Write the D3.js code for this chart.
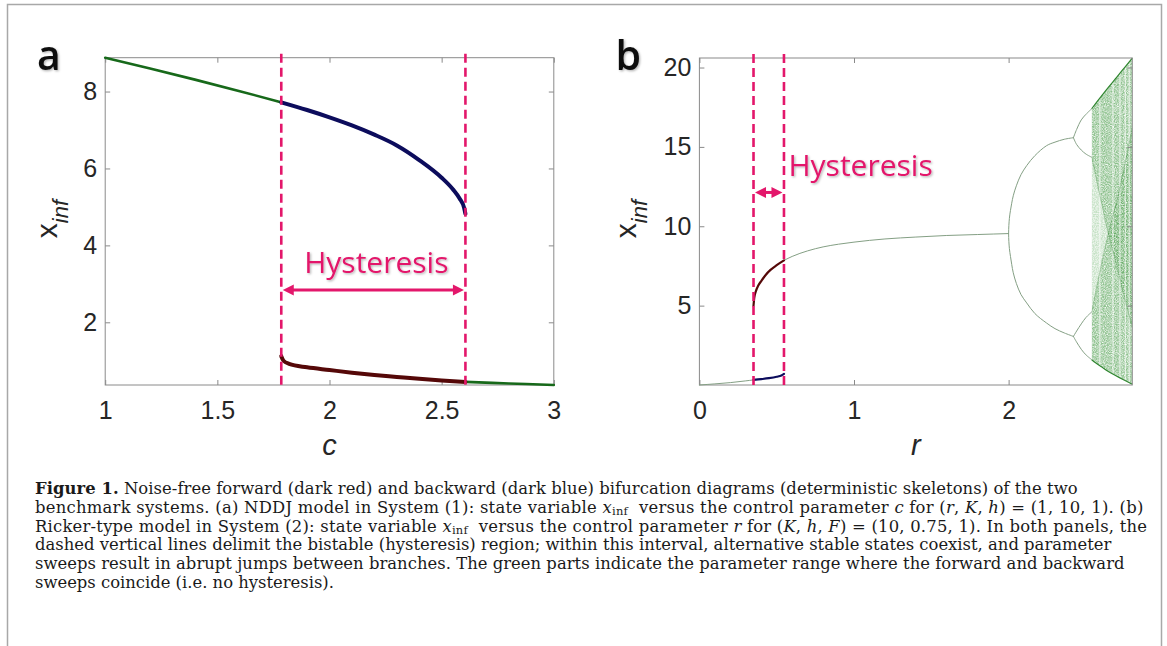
<!DOCTYPE html>
<html lang="en">
<head>
<meta charset="UTF-8">
<title>Figure 1 - bifurcation diagrams</title>
<script src="https://d3js.org/d3.v7.min.js"></script>
<style>
  body { margin: 0; background: #fff; }
  .tick text { font-family: "Liberation Sans", Arial, sans-serif; font-size: 25px; fill: #262626; }
  .tick line { stroke: #8a8a8a; }
  .box { fill: none; stroke: #8a8a8a; stroke-width: 1; }
  .caption { font-family: "DejaVu Serif", "Liberation Serif", serif; fill: #1a1a1a; }
</style>
</head>
<body>
<script>
// ---------- panel a : NDDJ model, x_inf vs c ----------
const aTicksX = [1, 1.5, 2, 2.5, 3];
const aTicksY = [2, 4, 6, 8];
const aHyst = [1.785, 2.606];          // dashed lines
const aArrowY = 2.84;
const aGreenUp = [[1.0, 8.88], [1.2, 8.6], [1.4, 8.31], [1.6, 8.01], [1.785, 7.72]];
const aBlue = [[1.785, 7.72], [1.9, 7.52], [2.0, 7.33], [2.1, 7.12], [2.2, 6.88], [2.3, 6.6],
               [2.4, 6.22], [2.5, 5.76], [2.55, 5.46], [2.58, 5.22], [2.6, 4.98], [2.606, 4.82]];
const aRed = [[1.785, 1.12], [1.795, 1.0], [1.82, 0.92], [1.9, 0.83], [2.0, 0.76], [2.1, 0.69],
              [2.2, 0.63], [2.3, 0.58], [2.4, 0.53], [2.5, 0.49], [2.606, 0.45]];
const aGreenLow = [[2.606, 0.45], [2.8, 0.41], [3.0, 0.37]];

// ---------- panel b : Ricker-type model, x_inf vs r ----------
const bTicksX = [0, 1, 2];
const bTicksY = [5, 10, 15, 20];
const bHyst = [0.35, 0.547];
const bArrowY = 12.13;
const bGreenLow = [[0, 0], [0.1, 0.07], [0.2, 0.15], [0.3, 0.26], [0.35, 0.32]];
const bBlue = [[0.35, 0.32], [0.4, 0.37], [0.45, 0.43], [0.5, 0.52], [0.53, 0.6], [0.547, 0.7]];
const bRed = [[0.35, 5.0], [0.355, 5.5], [0.365, 5.9], [0.38, 6.25], [0.4, 6.55], [0.43, 6.95],
              [0.46, 7.25], [0.5, 7.55], [0.547, 7.85]];
const bGreenUp = [[0.547, 7.85], [0.6, 8.1], [0.7, 8.45], [0.8, 8.7], [0.9, 8.87], [1.0, 9.0],
                  [1.2, 9.2], [1.4, 9.32], [1.6, 9.42], [1.8, 9.48], [2.0, 9.54]];
// period-2 branches
const bP2Up = [[2.0, 9.54], [2.005, 10.5], [2.012, 11.0], [2.02, 11.45], [2.03, 11.92], [2.05, 12.55],
               [2.08, 13.25], [2.117, 13.82], [2.17, 14.45], [2.246, 15.08], [2.3, 15.3], [2.36, 15.48], [2.419, 15.58]];
const bP2Low = [[2.0, 9.54], [2.005, 8.6], [2.012, 8.1], [2.02, 7.6], [2.03, 7.07], [2.05, 6.4],
                [2.08, 5.7], [2.117, 5.17], [2.17, 4.5], [2.246, 3.9], [2.3, 3.55], [2.36, 3.28], [2.419, 3.06]];
// period-4 branches
const bP4a = [[2.419, 15.58], [2.44, 16.1], [2.47, 16.7], [2.5, 17.05], [2.537, 17.4]];
const bP4b = [[2.419, 15.58], [2.44, 15.15], [2.47, 14.8], [2.5, 14.55], [2.537, 14.35]];
const bP4c = [[2.419, 3.06], [2.44, 3.4], [2.47, 3.85], [2.5, 4.25], [2.537, 4.6]];
const bP4d = [[2.419, 3.06], [2.44, 2.7], [2.47, 2.25], [2.5, 1.9], [2.537, 1.6]];
// chaotic band
const bChaosR = [2.537, 2.56, 2.6, 2.645, 2.7, 2.75, 2.8];
const bChaosTop = [17.4, 17.7, 18.2, 18.75, 19.4, 20.0, 20.6];
const bChaosBot = [1.6, 1.42, 1.15, 0.85, 0.55, 0.3, 0.05];
const bCausticA = [14.35, 13.3, 11.5, 9.54, 7.5, 5.5, 3.6];
const bCausticB = [4.6, 5.7, 7.6, 9.54, 11.6, 13.8, 16.2];
const bWindows = [2.59, 2.675, 2.72, 2.755, 2.78];

const W = 1167, H = 646;
const pink = "#e3176b";

const svg = d3.select("body").append("svg").attr("width", W).attr("height", H);

const defs = svg.append("defs");
const shadow = defs.append("filter").attr("id", "shadow").attr("x", "-10%").attr("y", "-10%")
    .attr("width", "130%").attr("height", "140%");
shadow.append("feDropShadow").attr("dx", 1.2).attr("dy", 1.2).attr("stdDeviation", 1)
    .attr("flood-color", "#000").attr("flood-opacity", 0.3);
const grain = defs.append("filter").attr("id", "grain").attr("x", 0).attr("y", 0)
    .attr("width", "100%").attr("height", "100%");
grain.append("feTurbulence").attr("type", "fractalNoise").attr("baseFrequency", 0.9)
    .attr("numOctaves", 2).attr("seed", 7).attr("result", "noise");
grain.append("feColorMatrix").attr("in", "noise").attr("type", "matrix")
    .attr("values", "0 0 0 0 1  0 0 0 0 1  0 0 0 0 1  1.6 0 0 0 -0.15").attr("result", "mask");
grain.append("feComposite").attr("in", "SourceGraphic").attr("in2", "mask").attr("operator", "in");

// outer frame
svg.append("path").attr("d", `M7.5,${H} V4.5 H1161.5 V${H}`)
    .attr("fill", "none").attr("stroke", "#a8a8a8").attr("stroke-width", 1.5);

function drawAxes(g, x, y, xt, yt, xlab) {
    const [x0, x1] = x.range(), [y0, y1] = y.range();
    g.append("g").attr("transform", `translate(0,${y0})`)
        .call(d3.axisBottom(x).tickValues(xt).tickSize(-5).tickPadding(16.5).tickFormat(d3.format("")));
    g.append("g").attr("transform", `translate(0,${y1})`)
        .call(d3.axisTop(x).tickValues(xt).tickSize(-5).tickFormat(""));
    g.append("g").attr("transform", `translate(${x0},0)`)
        .call(d3.axisLeft(y).tickValues(yt).tickSize(-5).tickPadding(8));
    g.append("g").attr("transform", `translate(${x1},0)`)
        .call(d3.axisRight(y).tickValues(yt).tickSize(-5).tickFormat(""));
    g.selectAll(".domain").remove();
    g.append("rect").attr("class", "box").attr("x", x0).attr("y", y1)
        .attr("width", x1 - x0).attr("height", y0 - y1);
    g.append("text").attr("x", (x0 + x1) / 2).attr("y", 454.5).attr("text-anchor", "middle")
        .style("font-family", "Liberation Sans, Arial, sans-serif").style("font-size", "29px")
        .style("font-style", "italic").attr("fill", "#262626").text(xlab);
}

function yLabel(g, bx, cy) {
    const t = g.append("text").attr("transform", `translate(${bx},${cy}) rotate(-90)`)
        .attr("text-anchor", "middle").attr("fill", "#262626")
        .style("font-family", "Liberation Sans, Arial, sans-serif");
    t.append("tspan").style("font-size", "30px").text("x");
    t.append("tspan").style("font-size", "22px").style("font-style", "italic").attr("dy", 11).text("inf");
}

function dashes(g, x, y, h) {
    const [y0, y1] = y.range();
    g.selectAll(null).data(h).enter().append("line")
        .attr("x1", d => x(d)).attr("x2", d => x(d)).attr("y1", y1 - 4).attr("y2", y0 + 3)
        .attr("stroke", pink).attr("stroke-width", 2.6).attr("stroke-dasharray", "9,5");
}

function arrow(g, xa, xb, yy) {
    const hl = 11, hw = 5.5;
    g.append("line").attr("x1", xa + hl - 1).attr("x2", xb - hl + 1).attr("y1", yy).attr("y2", yy)
        .attr("stroke", pink).attr("stroke-width", 3);
    g.append("path").attr("fill", pink)
        .attr("d", `M${xa},${yy} l${hl},${-hw} v${2 * hw} Z M${xb},${yy} l${-hl},${-hw} v${2 * hw} Z`);
}

function panelLabel(g, px, txt) {
    g.append("text").attr("x", px).attr("y", 70).attr("filter", "url(#shadow)")
        .style("font-family", "Open Sans, sans-serif").style("font-size", "41px").style("font-weight", 600)
        .attr("fill", "#111").text(txt);
}

function curve(g, x, y, data, color, width, crv) {
    g.append("path").datum(data)
        .attr("d", d3.line().x(d => x(d[0])).y(d => y(d[1])).curve(crv || d3.curveMonotoneX))
        .attr("fill", "none").attr("stroke", color).attr("stroke-width", width)
        .attr("stroke-linecap", "round");
}

// ---------- panel a ----------
const xA = d3.scaleLinear().domain([1, 3]).range([105.2, 553.8]);
const yA = d3.scaleLinear().domain([0.37, 8.88]).range([385, 57.7]);
const gA = svg.append("g");
drawAxes(gA, xA, yA, aTicksX, aTicksY, "c");
yLabel(gA, 56.7, 219);
curve(gA, xA, yA, aGreenUp, "#17691a", 2.6);
curve(gA, xA, yA, aGreenLow, "#17691a", 2.6);
curve(gA, xA, yA, aBlue, "#0c0c5c", 4);
curve(gA, xA, yA, aRed, "#550808", 4);
dashes(gA, xA, yA, aHyst);
arrow(gA, xA(aHyst[0]) + 1.5, xA(aHyst[1]) - 1.5, yA(aArrowY));
gA.append("text").attr("x", (xA(aHyst[0]) + xA(aHyst[1])) / 2 + 3).attr("y", yA(aArrowY) - 16.7)
    .attr("text-anchor", "middle").attr("filter", "url(#shadow)")
    .style("font-family", "Open Sans, sans-serif").style("font-size", "30px")
    .attr("fill", pink).text("Hysteresis");
panelLabel(gA, 37, "a");

// ---------- panel b ----------
const xB = d3.scaleLinear().domain([0, 2.8]).range([699.4, 1132.3]);
const yB = d3.scaleLinear().domain([0, 20.6]).range([385, 58]);
const gB = svg.append("g");

// chaotic band
const chaos = bChaosR.map((r, i) => ({ r, top: bChaosTop[i], bot: bChaosBot[i], a: bCausticA[i], b: bCausticB[i] }));
const bandArea = d3.area().x(d => xB(d.r)).y0(d => yB(d.bot)).y1(d => yB(d.top)).curve(d3.curveMonotoneX);
defs.append("clipPath").attr("id", "chaosClip").append("path").attr("d", bandArea(chaos));
const gC = gB.append("g").attr("clip-path", "url(#chaosClip)");
const gGrain = gC.append("g").attr("filter", "url(#grain)");
gGrain.append("path").attr("d", bandArea(chaos)).attr("fill", "#8cc48c").attr("opacity", 0.5);
gGrain.append("path").attr("fill", "#3a933a").attr("opacity", 0.4)
    .attr("d", d3.area().x(d => xB(d.r)).y0(d => yB(d.a)).y1(d => yB(d.top)).curve(d3.curveMonotoneX)(chaos));
gGrain.append("path").attr("fill", "#3a933a").attr("opacity", 0.4)
    .attr("d", d3.area().x(d => xB(d.r)).y0(d => yB(d.bot)).y1(d => yB(d.b)).curve(d3.curveMonotoneX)(chaos));
gC.selectAll(null).data(bWindows).enter().append("line")
    .attr("x1", d => xB(d)).attr("x2", d => xB(d)).attr("y1", yB(21)).attr("y2", yB(0))
    .attr("stroke", "#fff").attr("stroke-width", 1.3).attr("opacity", 0.6);
gC.append("path").datum(chaos).attr("fill", "none").attr("stroke", "#2a7a2a").attr("stroke-width", 0.7)
    .attr("opacity", 0.4).attr("d", d3.line().x(d => xB(d.r)).y(d => yB(d.a)).curve(d3.curveMonotoneX));
gC.append("path").datum(chaos).attr("fill", "none").attr("stroke", "#2a7a2a").attr("stroke-width", 0.7)
    .attr("opacity", 0.4).attr("d", d3.line().x(d => xB(d.r)).y(d => yB(d.b)).curve(d3.curveMonotoneX));
gB.append("path").datum(chaos).attr("fill", "none").attr("stroke", "#2f852f").attr("stroke-width", 1.2)
    .attr("d", d3.line().x(d => xB(d.r)).y(d => yB(d.top)).curve(d3.curveMonotoneX));
gB.append("path").datum(chaos).attr("fill", "none").attr("stroke", "#2f852f").attr("stroke-width", 1.2)
    .attr("d", d3.line().x(d => xB(d.r)).y(d => yB(d.bot)).curve(d3.curveMonotoneX));

drawAxes(gB, xB, yB, bTicksX, bTicksY, "r");
yLabel(gB, 635.9, 219);
const thinGreen = "#849f84";
const arc = d3.curveCatmullRom.alpha(0.5);
[bGreenLow, bGreenUp].forEach(d => curve(gB, xB, yB, d, thinGreen, 1));
curve(gB, xB, yB, bP2Low.slice().reverse().concat(bP2Up.slice(1)), thinGreen, 1, arc);
[bP4a, bP4b, bP4c, bP4d].forEach(d => curve(gB, xB, yB, d, thinGreen, 1, arc));
curve(gB, xB, yB, bBlue, "#0c0c5c", 2.2);
curve(gB, xB, yB, bRed, "#550808", 2.2);
dashes(gB, xB, yB, bHyst);
arrow(gB, xB(bHyst[0]) + 1.5, xB(bHyst[1]) - 1.5, yB(bArrowY));
gB.append("text").attr("x", xB(bHyst[1]) + 4.5).attr("y", yB(bArrowY) - 16.6)
    .attr("filter", "url(#shadow)")
    .style("font-family", "Open Sans, sans-serif").style("font-size", "30px")
    .attr("fill", pink).text("Hysteresis");
panelLabel(gB, 615.5, "b");

// ---------- caption ----------
const capLines = [
    [["Figure 1.", "b"], [" Noise-free forward (dark red) and backward (dark blue) bifurcation diagrams (deterministic skeletons) of the two"]],
    [["benchmark systems. (a) NDDJ model in System (1): state variable "], ["x", "i"], ["inf", "sub"],
     ["  versus the control parameter "], ["c", "i"], [" for ("], ["r", "i"], [", "], ["K", "i"], [", "], ["h", "i"],
     [") = (1, 10, 1). (b)"]],
    [["Ricker-type model in System (2): state variable "], ["x", "i"], ["inf", "sub"],
     ["  versus the control parameter "], ["r", "i"], [" for ("], ["K", "i"], [", "], ["h", "i"], [", "], ["F", "i"],
     [") = (10, 0.75, 1). In both panels, the"]],
    [["dashed vertical lines delimit the bistable (hysteresis) region; within this interval, alternative stable states coexist, and parameter"]],
    [["sweeps result in abrupt jumps between branches. The green parts indicate the parameter range where the forward and backward"]],
    [["sweeps coincide (i.e. no hysteresis)."]]
];
const capLeft = 35;
const capEnds = [1077.6, 1143.3, 1147, 1111.4, 1124.5, null];   // right end of each printed line
const cap = svg.append("g").attr("class", "caption").style("font-size", "17px");
const capTexts = capLines.map((parts, i) => {
    const t = cap.append("text").attr("x", capLeft).attr("y", 494.3 + i * 18.66).style("white-space", "pre");
    parts.forEach(([s, k]) => {
        const prev = t.select("tspan:last-child");
        const sp = t.append("tspan").text(s);
        if (k === "b") sp.style("font-weight", "bold");
        if (k === "i") sp.style("font-style", "italic");
        if (k === "sub") sp.attr("dy", 2.5).attr("class", "sub");
        else if (!prev.empty() && prev.classed("sub")) sp.attr("dy", -2.5);
    });
    return t;
});
// font size from the plain 4th line, then stretch each line to its printed width
const len3 = capTexts[3].node().getComputedTextLength();
const capSize = Math.min(18, 17 * (capEnds[3] - capLeft) / len3);
cap.style("font-size", capSize + "px");
cap.selectAll("tspan.sub").style("font-size", (capSize * 0.7) + "px");
capTexts.forEach((t, i) => {
    if (capEnds[i]) t.attr("textLength", capEnds[i] - capLeft).attr("lengthAdjust", "spacing");
});
</script>
</body>
</html>
